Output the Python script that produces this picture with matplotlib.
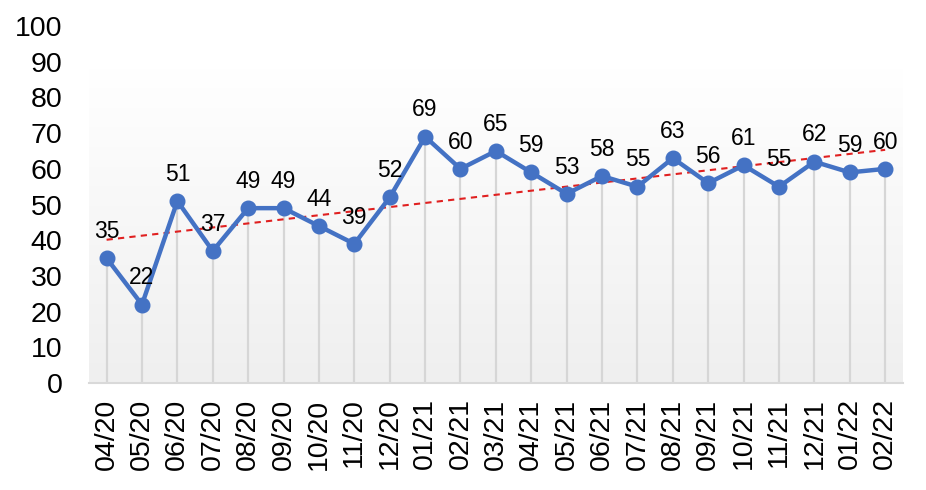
import numpy as np
import matplotlib
matplotlib.use('Agg')
import matplotlib.pyplot as plt
from matplotlib.colors import LinearSegmentedColormap

months = ['04/20', '05/20', '06/20', '07/20', '08/20', '09/20', '10/20', '11/20',
          '12/20', '01/21', '02/21', '03/21', '04/21', '05/21', '06/21', '07/21',
          '08/21', '09/21', '10/21', '11/21', '12/21', '01/22', '02/22']
values = [35, 22, 51, 37, 49, 49, 44, 39, 52, 69, 60, 65, 59, 53, 58, 55,
          63, 56, 61, 55, 62, 59, 60]

plt.rcParams['font.family'] = ['Liberation Sans', 'DejaVu Sans']

fig = plt.figure(figsize=(9.26, 4.9), dpi=100)
ax = fig.add_axes([0.096, 0.218, 0.879, 0.729])

x = np.arange(len(months))
ax.set_xlim(-0.5, len(months) - 0.5)
ax.set_ylim(0, 100)

# gradient background (plot area), white at top to light grey at bottom
cmap = LinearSegmentedColormap.from_list('bg', ['#efefef', '#ffffff'])
grad = np.linspace(0, 1, 256).reshape(-1, 1)
ax.imshow(grad, extent=[-0.5, len(months) - 0.5, 0, 88], origin='lower',
          cmap=cmap, aspect='auto', zorder=0)

# drop lines
ax.vlines(x, 0, values, color='#d6d6d6', lw=1.6, zorder=1)

# trend line
k, b = np.polyfit(x, values, 1)
ax.plot(x, k * x + b, color='#e02020', ls=(0, (3, 2.5)), lw=1.5, zorder=3)

ax.plot(x, values, color='#4472C4', lw=3.2, marker='o', ms=10.5, zorder=4)

for xi, v in zip(x, values):
    ax.annotate(str(v), (xi, v), xytext=(0, 11), textcoords='offset points',
                ha='center', va='bottom', fontsize=16.5, zorder=5)

ax.set_xticks(x)
ax.set_xticklabels(months, rotation=90, fontsize=20.5)
ax.set_yticks(range(0, 101, 10))
ax.tick_params(axis='y', labelsize=20.5, length=0, pad=19)
ax.tick_params(axis='x', length=0, pad=11)

for s in ['top', 'right', 'left']:
    ax.spines[s].set_visible(False)
ax.spines['bottom'].set_color('#d9d9d9')
ax.spines['bottom'].set_linewidth(1.5)

fig.savefig('out.png', dpi=100)
